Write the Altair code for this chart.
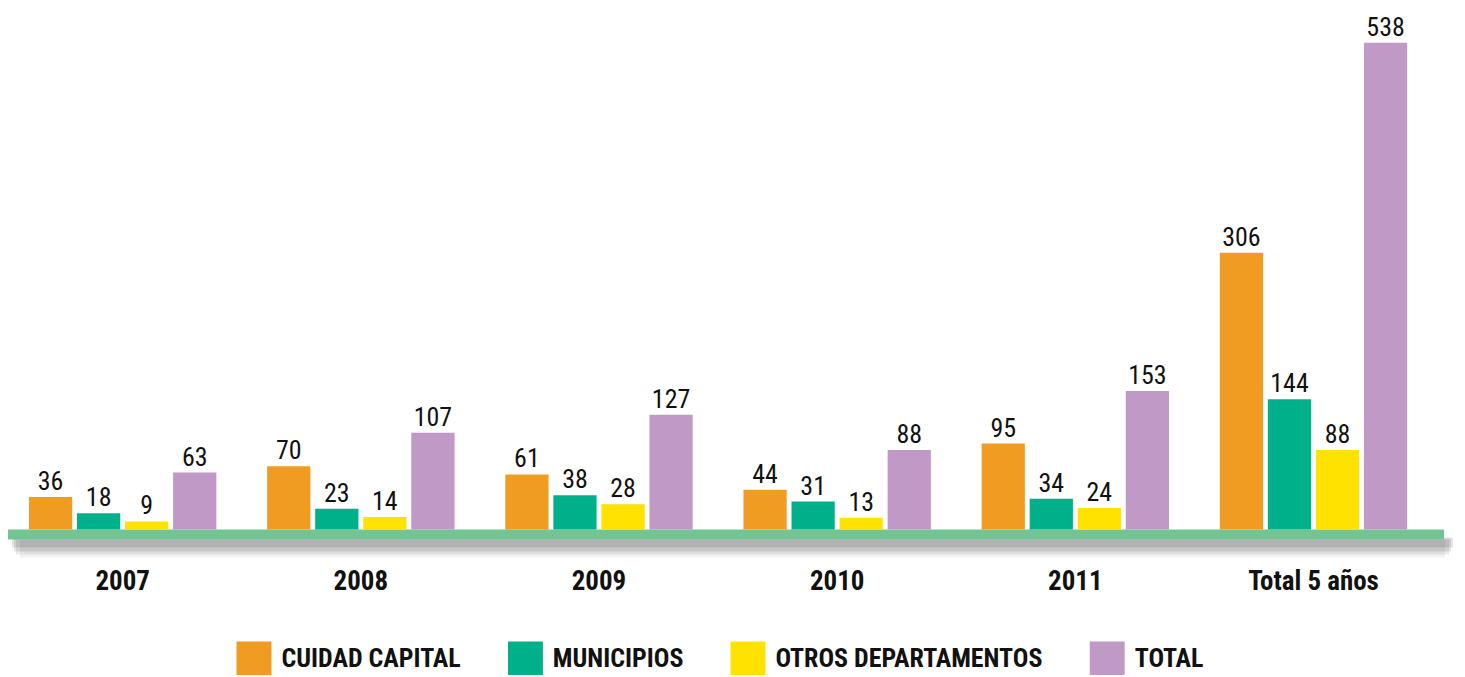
import altair as alt
import pandas as pd

categories = ["2007", "2008", "2009", "2010", "2011", "Total 5 años"]
series = ["CUIDAD CAPITAL", "MUNICIPIOS", "OTROS DEPARTAMENTOS", "TOTAL"]
colors = ["#F09C22", "#00B08A", "#FFE200", "#C099C6"]
capital = [36, 70, 61, 44, 95, 306]
municipios = [18, 23, 38, 31, 34, 144]
otros = [9, 14, 28, 13, 24, 88]
total = [63, 107, 127, 88, 153, 538]

rows = []
for i, c in enumerate(categories):
    for s, vals in zip(series, [capital, municipios, otros, total]):
        rows.append({"cat": c, "serie": s, "valor": vals[i]})
df = pd.DataFrame(rows)

FONT = "Liberation Sans Narrow, Arial Narrow, Roboto Condensed, sans-serif"

x_enc = alt.X("cat:N", sort=categories,
              scale=alt.Scale(paddingInner=0.193, paddingOuter=0.1217, align=0.32,
                              round=False),
              axis=alt.Axis(title=None, labelAngle=0, domain=False, ticks=False,
                            labelFont=FONT, labelFontSize=27, labelFontWeight="bold",
                            labelColor="#111111", labelPadding=39))
xo_enc = alt.XOffset("serie:N", sort=series,
                     scale=alt.Scale(paddingInner=0.1, paddingOuter=0.05, round=False))
y_enc = alt.Y("valor:Q", scale=alt.Scale(domain=[0, 575.5], nice=False),
              axis=None)

bars = alt.Chart(df).mark_bar().encode(
    x=x_enc, xOffset=xo_enc, y=y_enc,
    color=alt.Color("serie:N", sort=series,
                    scale=alt.Scale(domain=series, range=colors),
                    legend=alt.Legend(title=None, orient="none", direction="horizontal",
                                      legendX=229, legendY=634, padding=0,
                                      symbolType="square", symbolSize=1225,
                                      symbolStrokeWidth=0, symbolOpacity=1,
                                      labelFont=FONT, labelFontSize=26,
                                      labelFontWeight="bold", labelColor="#111111",
                                      labelOffset=10, columnPadding=47,
                                      labelLimit=400))
)

labels = alt.Chart(df).mark_text(dy=-7, baseline="alphabetic", font=FONT,
                                 fontSize=26, color="#111111").encode(
    x=x_enc, xOffset=xo_enc, y=y_enc, text="valor:Q"
)

one = pd.DataFrame({"a": [0]})
shadows = [
    alt.Chart(one).mark_rect(color="#000000", opacity=op).encode(
        x=alt.value(x1), x2=alt.value(x2), y=alt.value(y1), y2=alt.value(y2))
    for (x1, x2, y1, y2, op) in [
        (4, 1448, 530, 540, 0.10),
        (6, 1446, 531, 544, 0.10),
        (8, 1444, 532, 547, 0.08),
        (12, 1440, 532, 550, 0.05),
    ]
]
baseline = alt.Chart(one).mark_rect(color="#72C593").encode(
    x=alt.value(-1), x2=alt.value(1439), y=alt.value(522), y2=alt.value(532))

chart = alt.layer(*shadows, baseline, bars, labels).properties(
    width=1444, height=522,
    autosize=alt.AutoSizeParams(type="none"),
    padding={"left": 0, "top": 0, "right": 8, "bottom": 145},
    background="white",
).configure_view(strokeWidth=0, stroke="transparent")

chart.save("out.html", embed_options={"renderer": "svg", "actions": False})
